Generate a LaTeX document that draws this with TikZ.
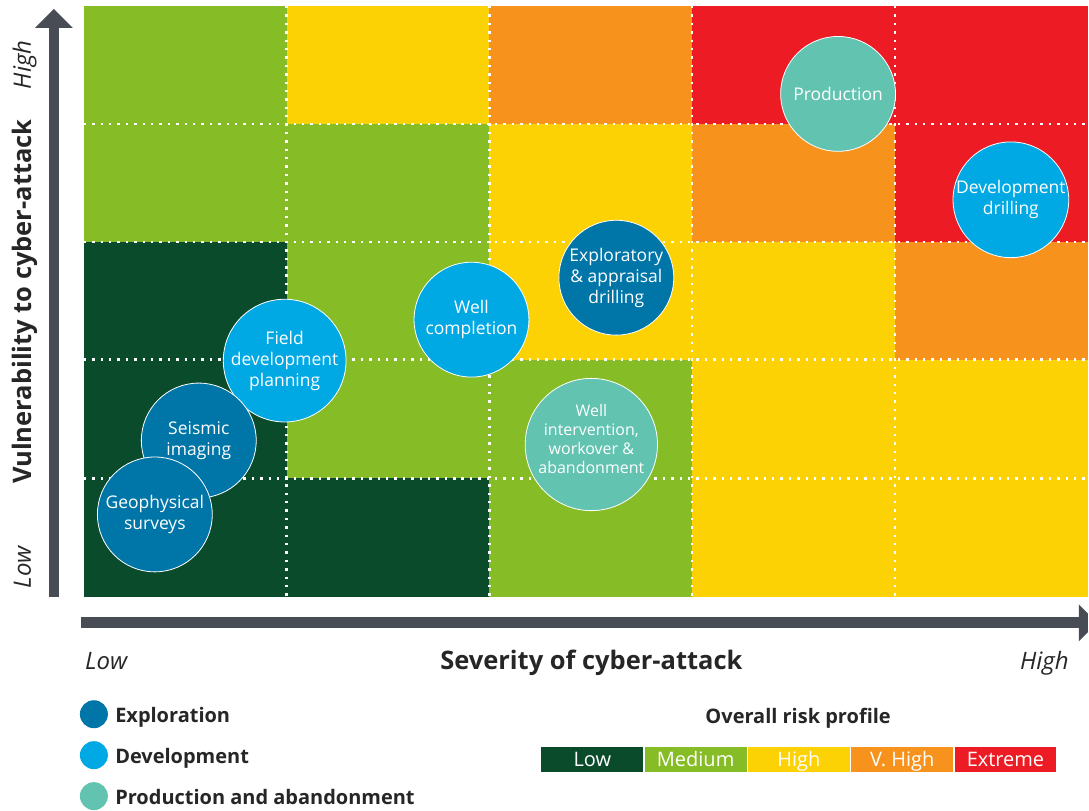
\documentclass[tikz,border=0pt]{standalone}
\usepackage{fontspec}
\setmainfont{Open Sans}
\usepackage{xcolor}
\usepackage{tikz}
\usetikzlibrary{positioning}

\definecolor{lowgreen}{HTML}{0A4B2C}
\definecolor{midgreen}{HTML}{86BC25}
\definecolor{riskyellow}{HTML}{FDD205}
\definecolor{riskorange}{HTML}{F7931D}
\definecolor{riskred}{HTML}{ED1C24}
\definecolor{explblue}{HTML}{0076A8}
\definecolor{devblue}{HTML}{00A9E4}
\definecolor{prodteal}{HTML}{62C3B1}
\definecolor{axisgray}{HTML}{474C55}
\definecolor{textgray}{HTML}{262626}

\begin{document}
\begin{tikzpicture}[x=1pt, y=-1pt,
    gridline/.style={white, line width=2.4pt, dash pattern=on 2.4pt off 6pt},
    stage/.style={circle, draw=white, line width=0.8pt, minimum size=115pt, inner sep=0pt, text=white, align=center, font=\fontsize{17.5}{21}\selectfont},
    axisend/.style={text=textgray, inner sep=0pt, font=\fontsize{24}{28}\selectfont\itshape},
    axistitle/.style={text=textgray, inner sep=0pt, font=\fontsize{25.5}{30}\selectfont\bfseries},
    legdot/.style={circle, minimum size=28pt, inner sep=0pt},
    legtext/.style={text=textgray, inner sep=0pt, text height=16pt, text depth=0pt, font=\fontsize{20}{24}\selectfont\bfseries},
    riskbox/.style={minimum width=102pt, minimum height=25pt, inner sep=0pt, text=white, text height=14pt, text depth=0pt, font=\fontsize{20}{24}\selectfont}]

    % page
    \fill[white] (0,0) rectangle (1089,811);

    % risk matrix cells
    \foreach \y/\a/\b/\c/\d/\e in {6/midgreen/riskyellow/riskorange/riskred/riskred,
        124/midgreen/midgreen/riskyellow/riskorange/riskred,
        242/lowgreen/midgreen/riskyellow/riskyellow/riskorange,
        360/lowgreen/midgreen/midgreen/riskyellow/riskyellow,
        479/lowgreen/lowgreen/midgreen/riskyellow/riskyellow} {
        \fill[\a] (84,\y) rectangle (287,\y+119);
        \fill[\b] (287,\y) rectangle (490,\y+119);
        \fill[\c] (490,\y) rectangle (693,\y+119);
        \fill[\d] (693,\y) rectangle (896,\y+119);
        \fill[\e] (896,\y) rectangle (1089,\y+119);
    }
    \fill[white] (84,598) rectangle (1089,604);

    % dotted grid
    \foreach \x in {287,490,693,896}
        \draw[gridline] (\x,6) -- (\x,598);
    \foreach \y in {124,242,360,479}
        \draw[gridline] (84,\y) -- (1089,\y);

    % vertical axis
    \fill[axisgray] (49,28) rectangle (59,598);
    \fill[axisgray] (35,28) -- (54,9) -- (73,28) -- cycle;
    \node[axistitle, rotate=90, anchor=base] (vultitle) at (32,302) {Vulnerability to cyber-attack};
    \node[axisend, rotate=90, anchor=base] (vulhigh) at (31,65) {High};
    \node[axisend, rotate=90, anchor=base] (vullow) at (31,568) {Low};

    % horizontal axis
    \fill[axisgray] (81,618) rectangle (1080,629);
    \fill[axisgray] (1080,605) -- (1089,614) -- (1089,633) -- (1080,642) -- cycle;
    \node[axistitle, anchor=base] (sevtitle) at (592,670) {Severity of cyber-attack};
    \node[axisend, anchor=base west] (sevlow) at (85,670) {Low};
    \node[axisend, anchor=base east] (sevhigh) at (1070,670) {High};

    % stages
    \node[stage, fill=prodteal] (prod) at (839,94) {Production};
    \node[stage, fill=devblue] (devdrill) at (1012,200) {Development\\drilling};
    \node[stage, fill=explblue] (explodrill) at (617,278) {Exploratory\\\& appraisal\\drilling};
    \node[stage, fill=devblue] (wellcomp) at (472,320) {Well\\completion};
    \node[stage, fill=prodteal, font=\fontsize{16}{19}\selectfont] (wellint) at (592,445) {Well\\intervention,\\workover \&\\abandonment\\[-8pt]};
    \node[stage, fill=devblue] (fielddev) at (285,361) {Field\\development\\planning};
    \node[stage, fill=explblue] (seismic) at (199,441) {Seismic\\imaging};
    \node[stage, fill=explblue] (geosurvey) at (155,515) {Geophysical\\surveys};

    % legend
    \node[legdot, fill=explblue] (legexpl) at (94,715) {};
    \node[legdot, fill=devblue] (legdev) at (94,756) {};
    \node[legdot, fill=prodteal] (legprod) at (94,797) {};
    \node[legtext, right=7pt of legexpl] (legexpltext) {Exploration};
    \node[legtext, right=7pt of legdev] (legdevtext) {Development};
    \node[legtext, right=7pt of legprod] (legprodtext) {Production and abandonment};

    % overall risk profile
    \node[legtext] (risktitle) at (799,716) {Overall risk profile};
    \node[riskbox, fill=lowgreen] (risklow) at (593,760.5) {Low};
    \node[riskbox, fill=midgreen, right=1pt of risklow] (riskmed) {Medium};
    \node[riskbox, fill=riskyellow, right=1pt of riskmed] (riskhigh) {High};
    \node[riskbox, fill=riskorange, right=1pt of riskhigh] (riskvhigh) {V. High};
    \node[riskbox, fill=riskred, right=1pt of riskvhigh] (riskext) {Extreme};
\end{tikzpicture}
\end{document}
